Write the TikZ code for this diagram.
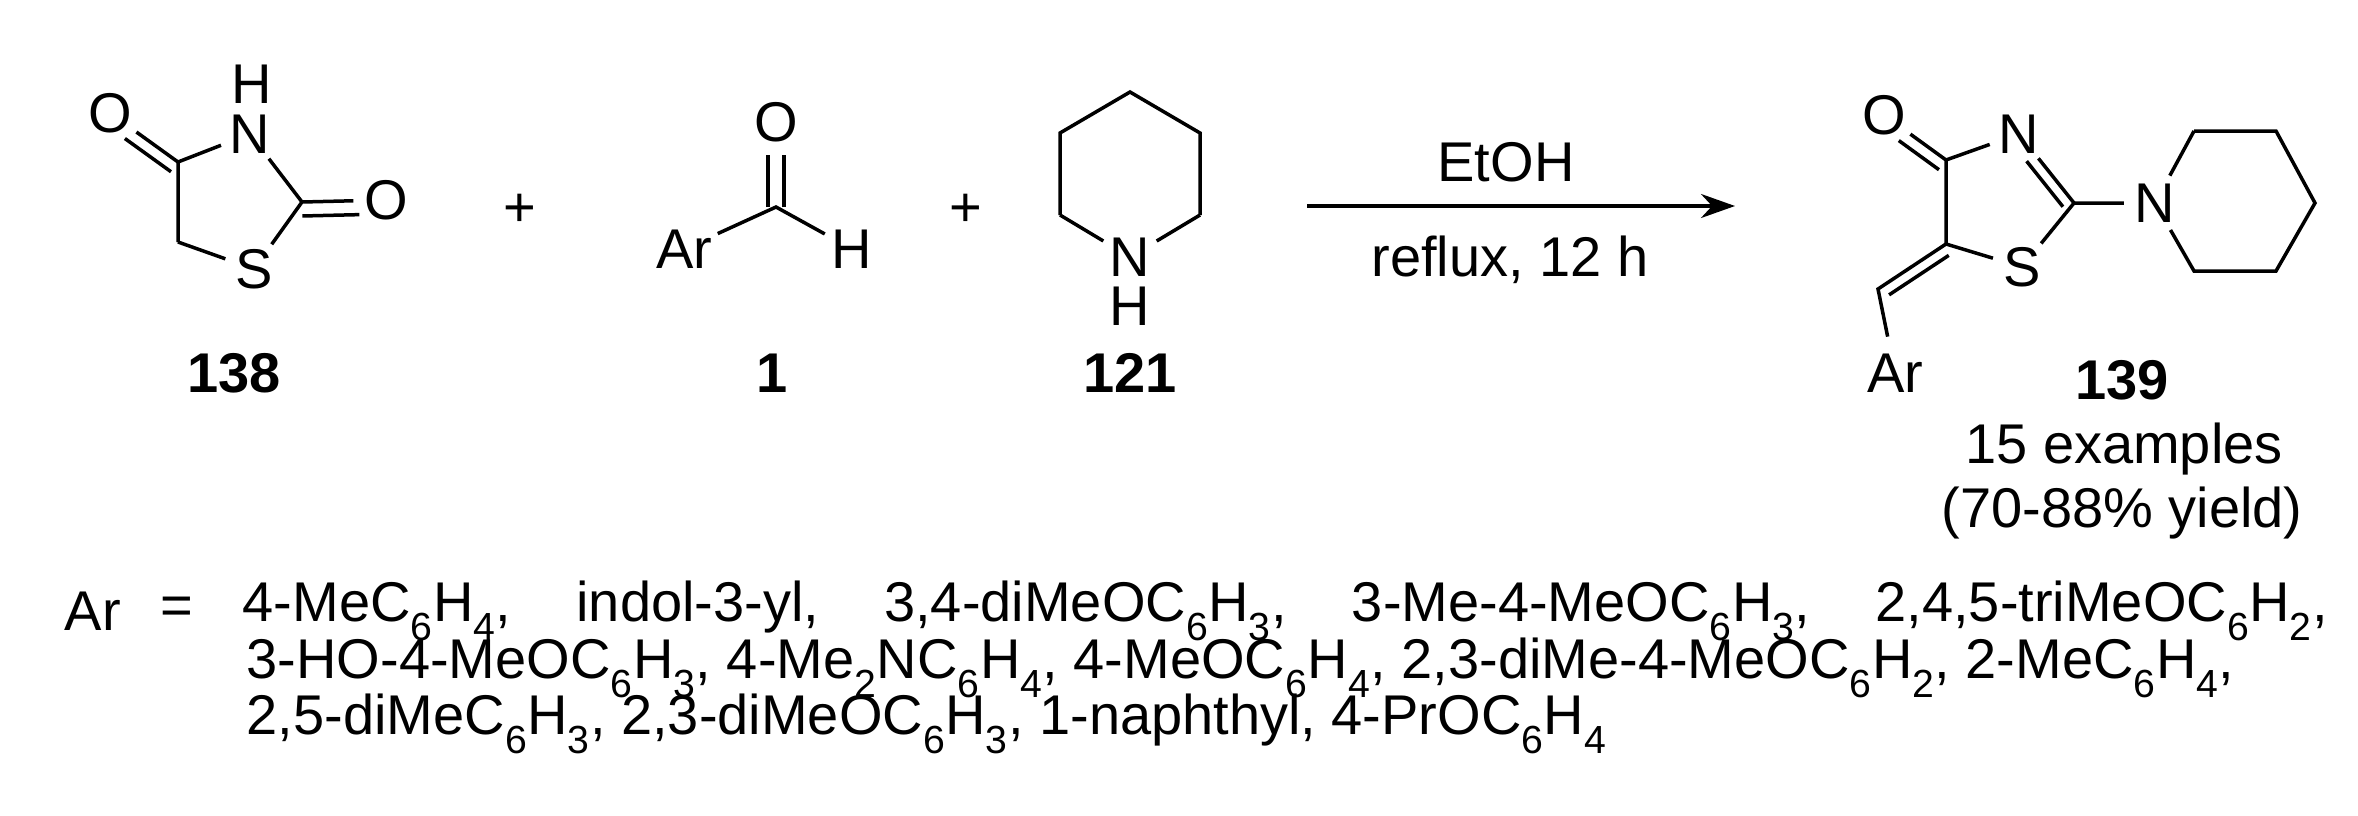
\documentclass[tikz,border=0pt]{standalone}
\usepackage{fontspec}
\setmainfont{Liberation Sans}
\usetikzlibrary{calc,arrows.meta}
\begin{document}
\begin{tikzpicture}[x=1pt,y=-1pt,line width=3.5pt,
  atom/.style={circle,inner sep=1pt,minimum size=54pt,font=\fontsize{56}{66}\selectfont},
  lbl/.style={inner sep=0pt,font=\fontsize{56}{66}\selectfont},
  cmpd/.style={inner sep=0pt,font=\fontsize{56}{66}\selectfont\bfseries}]
\useasboundingbox (0,0) rectangle (2358,816);
\newcommand{\dbl}[3]{\draw[shorten >=27pt] ($(#1)!#3!90:(#2)$) -- ($(#2)!#3!-90:(#1)$);}
% 138
\node[atom] (O1) at (110,113) {O};
\coordinate (C4) at (178,162);
\node[atom] (N1) at (250,134) {N};
\node[atom] (H1) at (252,84) {H};
\coordinate (C2) at (302,202);
\node[atom] (O2) at (386,200) {O};
\node[atom] (S1) at (254,269) {S};
\coordinate (C5) at (178,242);
\draw (C4) -- (O1) ;
\draw (C4)--(N1) (N1)--(C2) (C2)--(S1) (S1)--(C5) (C5)--(C4) (C2)--(O2);
\dbl{C4}{O1}{12pt}
\dbl{C2}{O2}{-14pt}
\node[cmpd] (L138) at (234,373) {138};
\node[lbl] (p1) at (520,210) {+};
% 1
\node[atom] (Ar1) at (684,249) {Ar};
\coordinate (Ca) at (776,207);
\node[atom] (O3) at (776,122) {O};
\node[atom] (H2) at (852,249) {H};
\draw (Ar1)--(Ca)--(H2);
\draw ($(Ca)+(-8,0)$) -- ($(O3.south)+(-8,0)$);
\draw ($(Ca)+(8,0)$) -- ($(O3.south)+(8,0)$);
\node[cmpd] (L1) at (772,373) {1};
\node[lbl] (p2) at (966,210) {+};
% 121
\coordinate (r1) at (1130,92);
\coordinate (r2) at (1200,133);
\coordinate (r3) at (1200,215);
\node[atom] (N2) at (1130,257) {N};
\coordinate (r5) at (1060,215);
\coordinate (r6) at (1060,133);
\node[atom] (H3) at (1130,306) {H};
\draw (r3)--(r2)--(r1)--(r6)--(r5);
\draw (r3)--(N2) (N2)--(r5);
\node[cmpd] (L121) at (1130,373) {121};
% arrow
\coordinate (a1) at (1307,206);
\coordinate (a2) at (1735,206);
\draw[-{Stealth[length=34pt,width=24pt]}] (a1) -- (a2);
\node[lbl] (EtOH) at (1506,162) {EtOH};
\node[lbl] (rfx) at (1510,260) {reflux, 12 h};
% 139
\node[atom] (O4) at (1884,115) {O};
\coordinate (D4) at (1946,160);
\node[atom] (N3) at (2019,134) {N};
\coordinate (D2) at (2074,203);
\node[atom] (S2) at (2022,267) {S};
\coordinate (D5) at (1946,244);
\coordinate (CH) at (1878,289);
\node[atom] (Ar2) at (1895,373) {Ar};
\node[atom] (N4) at (2155,203) {N};
\coordinate (q1) at (2194,131);
\coordinate (q2) at (2276,131);
\coordinate (q3) at (2315,203);
\coordinate (q4) at (2276,271);
\coordinate (q5) at (2194,271);
\draw (D4)--(O4) (D4)--(N3) (N3)--(D2) (D2)--(S2) (S2)--(D5) (D5)--(D4);
\draw (D5)--(CH)--(Ar2);
\draw (D2)--(N4) (N4)--(q1) (q1)--(q2)--(q3)--(q4)--(q5)--(N4);
\dbl{D4}{O4}{12pt}
\draw[shorten <=26pt,shorten >=4pt] ($(N3)!11pt!-90:(D2)$) -- ($(D2)!11pt!90:(N3)$);
\draw[shorten <=4pt,shorten >=6pt] ($(D5)!11pt!90:(CH)$) -- ($(CH)!11pt!-90:(D5)$);
\node[cmpd] (L139) at (2122,380) {139};
\node[lbl] (ex) at (2124,449) {15 examples};
\node[lbl] (yl) at (2122,513) {(70-88\% yield)};
% Ar list
\node[lbl,anchor=west] (ArL) at (63,611) {Ar};
\node[lbl] (eq) at (177,611) {=};
\node[lbl,anchor=west] (l1) at (241,611) {\makebox[2085pt][s]{4-MeC\textsubscript{6}H\textsubscript{4}, indol-3-yl, 3,4-diMeOC\textsubscript{6}H\textsubscript{3}, 3-Me-4-MeOC\textsubscript{6}H\textsubscript{3}, 2,4,5-triMeOC\textsubscript{6}H\textsubscript{2},}};
\node[lbl,anchor=west] (l2) at (245,668) {3-HO-4-MeOC\textsubscript{6}H\textsubscript{3}, 4-Me\textsubscript{2}NC\textsubscript{6}H\textsubscript{4}, 4-MeOC\textsubscript{6}H\textsubscript{4}, 2,3-diMe-4-MeOC\textsubscript{6}H\textsubscript{2}, 2-MeC\textsubscript{6}H\textsubscript{4},};
\node[lbl,anchor=west] (l3) at (245,724) {2,5-diMeC\textsubscript{6}H\textsubscript{3}, 2,3-diMeOC\textsubscript{6}H\textsubscript{3}, 1-naphthyl, 4-PrOC\textsubscript{6}H\textsubscript{4}};
\end{tikzpicture}
\end{document}
